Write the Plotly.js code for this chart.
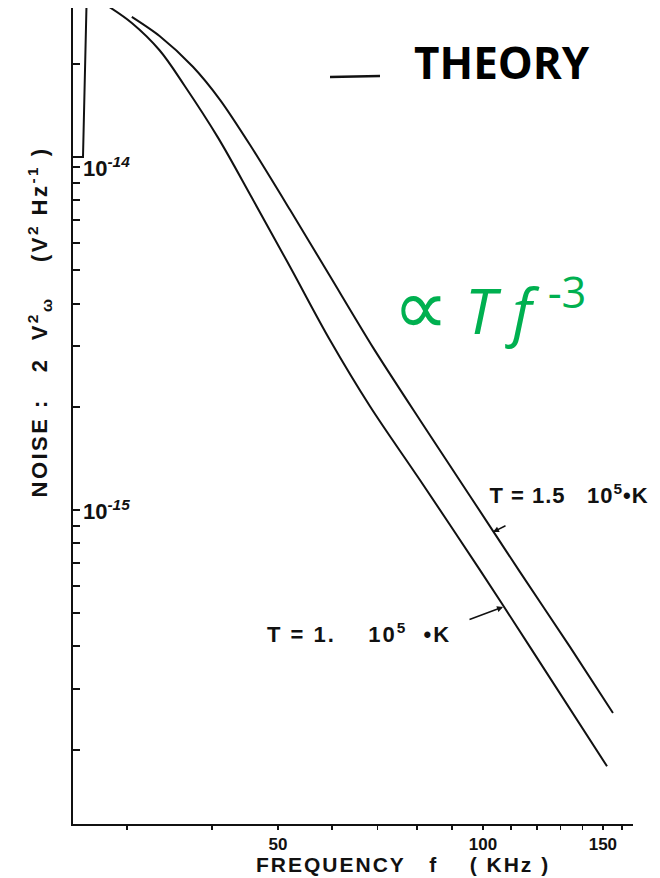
<!DOCTYPE html>
<html>
<head>
<meta charset="utf-8">
<script src="https://cdn.plot.ly/plotly-3.0.1.min.js"></script>
<style>
  html, body { margin: 0; padding: 0; background: #fff; }
  #chart { width: 660px; height: 878px; }
  /* typewriter-like spacing for the axis titles and curve labels */
  g.annotation[data-index="0"] text { letter-spacing: 2px; }
  g.annotation[data-index="1"] text { letter-spacing: 2.5px; }
  g.annotation[data-index="2"] text { letter-spacing: 1px; }
  g.annotation[data-index="3"] text { letter-spacing: 2px; }
</style>
</head>
<body>
<div id="chart"></div>
<script>
// Theoretical noise spectra, log-log: frequency in kHz, noise 2V_w^2 in V^2/Hz
const freqLow = [28.1, 30.5, 33.5, 36.5, 40.8, 45.8, 52.1, 59.6, 68.2, 80.8, 99.0, 117.2, 152.1];
const noiseLow = [2.95e-14, 2.63e-14, 2.19e-14, 1.72e-14, 1.22e-14, 8.12e-15, 5.11e-15, 3.13e-15, 2.01e-15, 1.223e-15, 6.68e-16, 3.99e-16, 1.79e-16];

const freqHigh = [30.5, 33.5, 37.5, 41.1, 45.5, 52.1, 59.6, 69.0, 80.8, 95.7, 113.3, 134.2, 155.2];
const noiseHigh = [2.74e-14, 2.41e-14, 1.96e-14, 1.57e-14, 1.159e-14, 7.49e-15, 4.81e-15, 2.97e-15, 1.83e-15, 1.099e-15, 6.60e-16, 3.99e-16, 2.56e-16];

// Steep branch at the low-frequency edge
const edgeFreq = [26.2, 25.86, 25.0];
const edgeNoise = [3.3e-14, 1.069e-14, 1.069e-14];

// Axis ticks
const freqTicks = [30, 40, 50, 60, 70, 80, 90, 100, 110, 120, 130, 140, 150, 160];
const freqTickText = ['', '', '<b>50</b>', '', '', '', '', '<b>100</b>', '', '', '', '', '<b>150</b>', ''];
const noiseTicks = [2e-16, 3e-16, 4e-16, 5e-16, 6e-16, 7e-16, 8e-16, 9e-16,
                    1e-15, 2e-15, 3e-15, 4e-15, 5e-15, 6e-15, 7e-15, 8e-15, 9e-15,
                    1e-14, 2e-14];
// Decade labels written inside the frame next to their ticks
const decadeTicks = [1e-15, 1e-14];
const decadeText = ['<b>10<sup><i>-15</i></sup></b>', '<b>10<sup><i>-14</i></sup></b>'];

// Plot-area geometry in pixels, used to place free text in paper units
const W = 660, H = 878;
const M = { l: 73, r: 27, t: 8, b: 54 };
const pw = W - M.l - M.r, ph = H - M.t - M.b;
const px = x => (x - M.l) / pw;
const py = y => (H - M.b - y) / ph;

const ink = '#111';
const sans = 'Liberation Sans, Arial, sans-serif';
const labelFont = { family: sans, size: 22, color: ink };
const nb = n => '\u00a0'.repeat(n);

const traces = [
  { x: freqLow, y: noiseLow, type: 'scatter', mode: 'lines',
    line: { color: ink, width: 2, shape: 'spline', smoothing: 1.0 }, hoverinfo: 'skip' },
  { x: freqHigh, y: noiseHigh, type: 'scatter', mode: 'lines',
    line: { color: ink, width: 2, shape: 'spline', smoothing: 0.8 }, hoverinfo: 'skip' },
  { x: edgeFreq, y: edgeNoise, type: 'scatter', mode: 'lines',
    line: { color: ink, width: 2 }, hoverinfo: 'skip' }
];

const annotations = [
  { xref: 'paper', yref: 'paper', x: px(403), y: py(878), xanchor: 'center', yanchor: 'bottom',
    text: '<b>FREQUENCY' + nb(3) + 'f' + nb(4) + '(' + nb(1) + 'KHz' + nb(1) + ')</b>', showarrow: false,
    font: { family: sans, size: 21, color: ink } },
  { xref: 'paper', yref: 'paper', x: px(39), y: py(322), xanchor: 'center', yanchor: 'middle',
    textangle: -90, showarrow: false,
    text: '<b>NOISE' + nb(1) + ':' + nb(3) + '2' + nb(2) + 'V<sup>2</sup><sub>ω</sub>' + nb(4) +
          '(V<sup>2</sup>' + nb(1) + 'Hz<sup>-1</sup>' + nb(1) + ')</b>',
    font: labelFont },
  { xref: 'paper', yref: 'paper', x: px(495), y: py(494), xanchor: 'left', yanchor: 'middle',
    text: '<b>T' + nb(1) + '=' + nb(1) + '1.5' + nb(3) + '10<sup>5</sup>•K</b>', showarrow: false, font: labelFont },
  { xref: 'paper', yref: 'paper', x: px(282), y: py(633), xanchor: 'left', yanchor: 'middle',
    text: '<b>T' + nb(1) + '=' + nb(1) + '1.' + nb(4) + '10<sup>5</sup>' + nb(2) + '•K</b>', showarrow: false, font: labelFont },
  { xref: 'paper', yref: 'paper', x: px(493), y: py(532), text: '', showarrow: true,
    ax: 14, ay: -7, arrowhead: 2, arrowsize: 0.8, arrowwidth: 1.5, arrowcolor: ink },
  { xref: 'paper', yref: 'paper', x: px(503), y: py(607), text: '', showarrow: true,
    ax: -35, ay: 13, arrowhead: 2, arrowsize: 0.8, arrowwidth: 1.5, arrowcolor: ink },
  { xref: 'paper', yref: 'paper', x: px(412), y: py(62), xanchor: 'left', yanchor: 'middle',
    text: '<b>THEORY</b>', showarrow: false,
    font: { family: 'Open Sans, sans-serif', size: 44, color: '#000' } },
  { xref: 'paper', yref: 'paper', x: px(391), y: py(304), xanchor: 'left', yanchor: 'middle',
    text: '<span style="font-size:78px">∝</span>' + nb(1) + '<i>T</i>' + nb(1) + '<i>f</i>' + nb(1) + '<sup>-3</sup>',
    showarrow: false,
    font: { family: 'Open Sans, sans-serif', size: 62, color: '#00B050' } }
];
decadeTicks.forEach((v, i) => annotations.push({
  xref: 'paper', yref: 'y', x: px(81), y: Math.log10(v), xanchor: 'left', yanchor: 'middle',
  text: decadeText[i], showarrow: false, font: { family: sans, size: 22, color: ink }
}));

const layout = {
  width: W, height: H,
  margin: M,
  paper_bgcolor: '#fff', plot_bgcolor: '#fff',
  showlegend: false,
  xaxis: {
    type: 'log', range: [Math.log10(25), 2.2203],
    showline: true, linecolor: ink, linewidth: 2,
    showgrid: false, zeroline: false,
    ticks: 'outside', ticklen: 4, tickwidth: 1.5, tickcolor: ink,
    tickmode: 'array', tickvals: freqTicks, ticktext: freqTickText,
    tickfont: { family: sans, size: 17, color: ink }
  },
  yaxis: {
    type: 'log', range: [-15.9155, -13.5364],
    showline: true, linecolor: ink, linewidth: 2,
    showgrid: false, zeroline: false,
    ticks: 'inside', ticklen: 7, tickwidth: 2, tickcolor: ink,
    tickmode: 'array', tickvals: noiseTicks, showticklabels: false
  },
  shapes: [
    { type: 'line', xref: 'paper', yref: 'paper',
      x0: px(330), y0: py(77), x1: px(380), y1: py(76),
      line: { color: ink, width: 2.5 } }
  ],
  annotations: annotations
};

Plotly.newPlot('chart', traces, layout, { staticPlot: true, displayModeBar: false });
</script>
</body>
</html>
